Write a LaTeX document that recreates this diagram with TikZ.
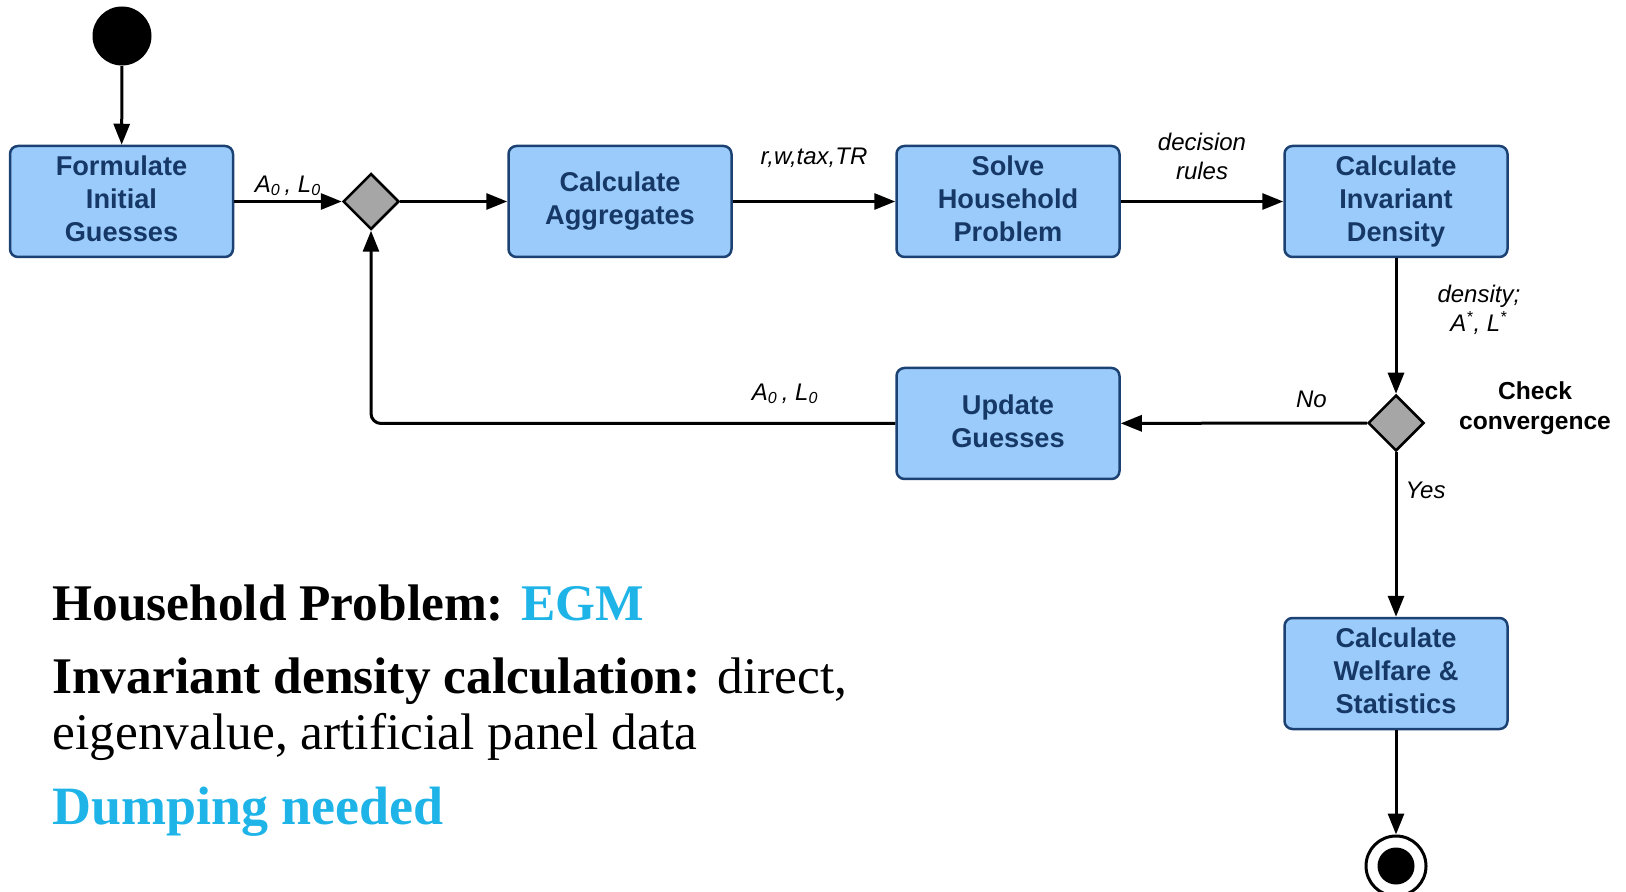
\documentclass[tikz,border=0pt]{standalone}
\usepackage{fontspec}
\usetikzlibrary{shapes.geometric,arrows.meta,positioning}
\newfontfamily\lsans{Liberation Sans}
\newfontfamily\lserif{Liberation Serif}
\definecolor{boxfill}{RGB}{155,203,250}
\definecolor{boxline}{RGB}{28,66,115}
\definecolor{boxtext}{RGB}{22,56,102}
\definecolor{hilite}{RGB}{30,180,232}
\definecolor{gatefill}{RGB}{166,166,166}

\begin{document}
\begin{tikzpicture}[x=0.5pt,y=-0.5pt]
      \tikzstyle{every node}+=[inner sep=0pt]
      \tikzstyle{activity}=[draw=boxline, fill=boxfill, line width=1.25pt, rounded corners=4pt, minimum width=111.5pt, minimum height=55.5pt, align=center, text=boxtext, font=\lsans\bfseries\fontsize{13.6pt}{16.5pt}\selectfont, execute at end node={\vphantom{y}}]
      \tikzstyle{gate}=[diamond, aspect=1, draw=black, fill=gatefill, line width=1.25pt, minimum size=28pt]
      \tikzstyle{flow}=[line width=1.5pt, -{Triangle[length=10.5pt,width=8pt]}]
      \tikzstyle{lbl}=[font=\lsans\itshape\fontsize{12pt}{14.5pt}\selectfont, align=center]
      \tikzstyle{prose}=[anchor=base west, font=\lserif\fontsize{25.7pt}{28pt}\selectfont]
      \useasboundingbox (0,0) rectangle (1626,892);
      \node [circle, fill=black, minimum size=29.5pt] (start) at (122,36) {};
      \node [activity] (init) at (121.5,201.5) {Formulate\\Initial\\Guesses};
      \node [gate] (join) at (371,201.5) {};
      \node [activity] (aggr) at (620,201.5) {Calculate\\Aggregates};
      \node [activity] (house) at (1008,201.5) {Solve\\Household\\Problem};
      \node [activity] (dens) at (1396,201.5) {Calculate\\Invariant\\Density};
      \node [gate] (check) at (1396,423) {};
      \node [activity] (update) at (1008,423.5) {Update\\Guesses};
      \node [activity] (welfare) at (1396,673.5) {Calculate\\Welfare \&\\Statistics};
      \node [circle, draw=black, line width=1.5pt, minimum size=30pt] (stop) at (1396,866) {};
      \node [circle, fill=black, minimum size=18.5pt] (stopcore) at (stop) {};
      \node [align=center, font=\lsans\bfseries\fontsize{12.3pt}{15pt}\selectfont] (checklbl) at (1535,408) {Check\\convergence};
      \draw [flow] (start) -- (init);
      \draw [flow] (init) -- node [lbl, above=2pt] {A\textsubscript{0}\,, L\textsubscript{0}} (join);
      \draw [flow] (join) -- (aggr);
      \draw [flow] (aggr) -- node [lbl, above=16pt] {r,w,tax,TR} (house);
      \draw [flow] (house) -- node [lbl, above=10pt] {decision\\rules} (dens);
      \draw [flow] (dens) -- node [lbl, pos=0.38, right=20pt] {density;\\A\textsuperscript{*}, L\textsuperscript{*}} (check);
      \draw [flow] (check) -- node [lbl, pos=0.225, above=7pt] {No} (update);
      \draw [flow, rounded corners=5pt] (update.west) -- node [lbl, pos=0.21, above=9pt] {A\textsubscript{0}\,, L\textsubscript{0}} (join |- update.west) -- (join.south);
      \draw [flow] (check) -- node [lbl, pos=0.23, right=4pt] {Yes} (welfare);
      \draw [flow] (welfare) -- (stop);
      \node [prose] (hhtext) at (52,620) {\bfseries Household Problem: \textcolor{hilite}{EGM}};
      \node [prose] (invtext) at (52,693) {\bfseries Invariant density calculation: \mdseries direct,};
      \node [prose] (invtext2) at (52,749) {eigenvalue, artificial panel data};
      \node [prose, text=hilite, font=\lserif\fontsize{27pt}{28pt}\selectfont] (dumptext) at (52,824) {\bfseries Dumping needed};
\end{tikzpicture}
\end{document}
